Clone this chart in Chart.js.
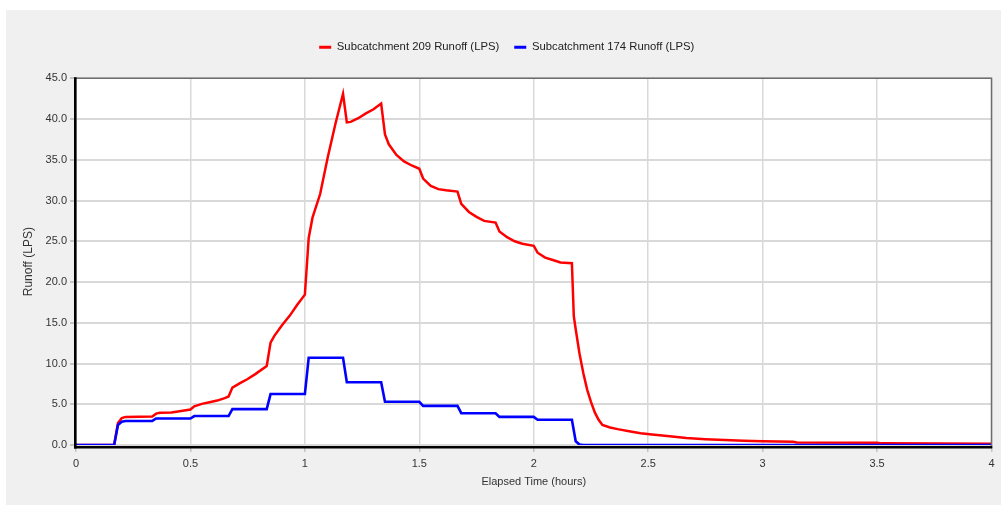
<!DOCTYPE html>
<html><head><meta charset="utf-8">
<script src="https://cdn.jsdelivr.net/npm/chart.js@4.4.1/dist/chart.umd.min.js"></script>
<style>
html,body{margin:0;padding:0;background:#fff;width:1001px;height:507px;overflow:hidden}
#wrap{position:absolute;left:6px;top:10px;width:995px;height:495px;background:#f0f0f0}
canvas{display:block}
</style></head><body>
<div id="wrap"><canvas id="c" width="995" height="495"></canvas></div>
<script>
// ---- data (hours, LPS) ----
const seriesLabels = ['Subcatchment 209 Runoff (LPS)', 'Subcatchment 174 Runoff (LPS)'];
const seriesColors = ['#ff0000', '#0000ff'];

const redTimes = [0,0.1667,0.1833,0.2,0.2167,0.3333,0.35,0.3667,0.4167,0.4667,0.5,0.5167,0.55,0.5833,0.6167,0.65,0.6667,
  0.6833,0.7167,0.75,0.7833,0.8333,0.85,0.8667,0.9,0.9333,0.9667,1.0,1.0167,1.0333,1.0667,1.1,1.1333,1.1667,
  1.1833,1.2,1.2333,1.2667,1.3,1.3333,1.35,1.3667,1.4,1.4333,1.4667,1.5,1.5167,1.55,1.5833,1.6167,1.6667,
  1.6833,1.7167,1.75,1.7833,1.8333,1.85,1.8833,1.9167,1.95,2.0,2.0167,2.05,2.0833,2.1167,2.1667,
  2.175,2.1833,2.2,2.2167,2.2333,2.25,2.2667,2.2833,2.3,2.3333,2.3667,2.4167,2.4667,2.5167,2.5833,2.6667,
  2.75,2.8333,2.9167,3.0,3.1333,3.15,3.5,3.5167,4.0];
const redValues = [0,0,2.7,3.3,3.45,3.5,3.85,3.95,4.0,4.2,4.35,4.75,5.05,5.25,5.45,5.75,5.95,
  7.05,7.6,8.1,8.7,9.7,12.55,13.4,14.7,15.85,17.2,18.45,25.4,27.9,30.8,35.3,39.4,43.1,
  39.6,39.65,40.1,40.7,41.2,41.9,38.1,36.9,35.6,34.8,34.3,33.9,32.7,31.8,31.4,31.25,31.1,
  29.6,28.6,28.0,27.5,27.3,26.2,25.5,25.0,24.7,24.45,23.6,23.0,22.7,22.4,22.3,
  15.8,14.2,11.2,8.8,6.8,5.3,4.0,3.1,2.45,2.15,1.95,1.7,1.45,1.3,1.1,0.85,
  0.72,0.62,0.52,0.45,0.4,0.32,0.28,0.2,0.15];

const blueTimes = [0,0.1667,0.1833,0.2,0.2167,0.3333,0.35,0.5,0.5167,0.6667,0.6833,0.8333,0.85,1.0,1.0167,
  1.1667,1.1833,1.3333,1.35,1.5,1.5167,1.6667,1.6833,1.8333,1.85,2.0,2.0167,2.1667,2.1833,2.2,2.2167,4.0];
const blueValues = [0,0,2.45,2.85,2.95,2.95,3.25,3.25,3.55,3.55,4.4,4.4,6.25,6.25,10.7,
  10.7,7.7,7.7,5.3,5.3,4.8,4.8,3.9,3.9,3.45,3.45,3.1,3.1,0.45,0.05,0,0];

const xRange = [0, 4], xStep = 0.5;
const yRange = [0, 45], yStep = 5;
const xTitle = 'Elapsed Time (hours)';
const yTitle = 'Runoff (LPS)';

const toPoints = (ts, vs) => ts.map((t, i) => ({x: t, y: vs[i]}));
const FONT = "'Liberation Sans', Arial, sans-serif";

const plotDeco = {
  id: 'plotDeco',
  beforeLayout(chart) {
    const lg = chart.legend;
    if (lg && !lg._patched) {
      const f = lg.fit;
      lg.fit = function () { f.call(this); this.height = 51.8; };
      const d = lg.draw;
      lg.draw = function (area) {
        const ctx = this.ctx;
        ctx.save(); ctx.translate(8, 0); d.call(this, area); ctx.restore();
      };
      lg._patched = true;
    }
  },
  beforeDraw(chart) {
    const {ctx, chartArea: a} = chart;
    ctx.save();
    ctx.fillStyle = '#ffffff';
    ctx.fillRect(a.left, a.top, a.right - a.left, a.bottom - a.top);
    ctx.restore();
  },
  afterDatasetsDraw(chart) {
    const {ctx, chartArea: a} = chart;
    ctx.save();
    ctx.strokeStyle = '#6e6e6e';
    ctx.lineWidth = 1.5;
    ctx.beginPath();
    ctx.moveTo(a.left - 2, a.top); ctx.lineTo(a.right, a.top); ctx.lineTo(a.right, a.bottom + 3);
    ctx.stroke();
    ctx.strokeStyle = '#000000';
    ctx.lineWidth = 2.6;
    ctx.beginPath();
    ctx.moveTo(a.left - 0.7, a.top - 1); ctx.lineTo(a.left - 0.7, a.bottom + 3.4);
    ctx.stroke();
    ctx.beginPath();
    ctx.moveTo(a.left - 2, a.bottom + 2.2); ctx.lineTo(a.right + 0.7, a.bottom + 2.2);
    ctx.stroke();
    ctx.restore();
  }
};

new Chart(document.getElementById('c'), {
  type: 'line',
  data: {
    datasets: [
      {label: seriesLabels[1], data: toPoints(blueTimes, blueValues), borderColor: seriesColors[1],
       backgroundColor: seriesColors[1], borderWidth: 2.6, pointRadius: 0, tension: 0, fill: false},
      {label: seriesLabels[0], data: toPoints(redTimes, redValues), borderColor: seriesColors[0],
       backgroundColor: seriesColors[0], borderWidth: 2.5, pointRadius: 0, tension: 0, fill: false}
    ]
  },
  options: {
    responsive: false,
    animation: false,
    events: [],
    layout: {padding: {left: 0, right: 9.5, top: 16.5, bottom: 0}},
    plugins: {
      tooltip: {enabled: false},
      legend: {
        position: 'top',
        align: 'center',
        labels: {
          boxWidth: 12, boxHeight: 3, padding: 15, color: '#222',
          font: {family: FONT, size: 11.3},
          generateLabels(chart) {
            const ds = chart.data.datasets;
            return [1, 0].map(i => ({
              text: ds[i].label, fillStyle: ds[i].borderColor, strokeStyle: ds[i].borderColor,
              lineWidth: 0, hidden: false, datasetIndex: i, fontColor: '#222'
            }));
          }
        }
      }
    },
    scales: {
      x: {
        type: 'linear', min: xRange[0], max: xRange[1],
        ticks: {stepSize: xStep, color: '#333', font: {family: FONT, size: 11}, padding: 5,
                maxRotation: 0, autoSkip: false, callback: v => String(+(+v).toFixed(1))},
        grid: {color: '#d9d9d9', lineWidth: 1.5, tickLength: 7, tickColor: '#c4c4c4'},
        border: {display: false},
        title: {display: true, text: xTitle, color: '#333', font: {family: FONT, size: 11},
                padding: {top: 0, bottom: 16}},
        afterFit: s => { s.height = 60; }
      },
      y: {
        min: yRange[0], max: yRange[1],
        ticks: {stepSize: yStep, color: '#333', font: {family: FONT, size: 11}, padding: 3,
                callback: v => (+v).toFixed(1)},
        grid: {color: '#d9d9d9', lineWidth: 2, tickLength: 6, tickColor: '#c4c4c4'},
        border: {display: false},
        title: {display: true, text: yTitle, color: '#333', font: {family: FONT, size: 12},
                padding: {top: 15, bottom: 0}},
        afterFit: s => { s.width = 70; }
      }
    }
  },
  plugins: [plotDeco]
});
</script>
</body></html>
